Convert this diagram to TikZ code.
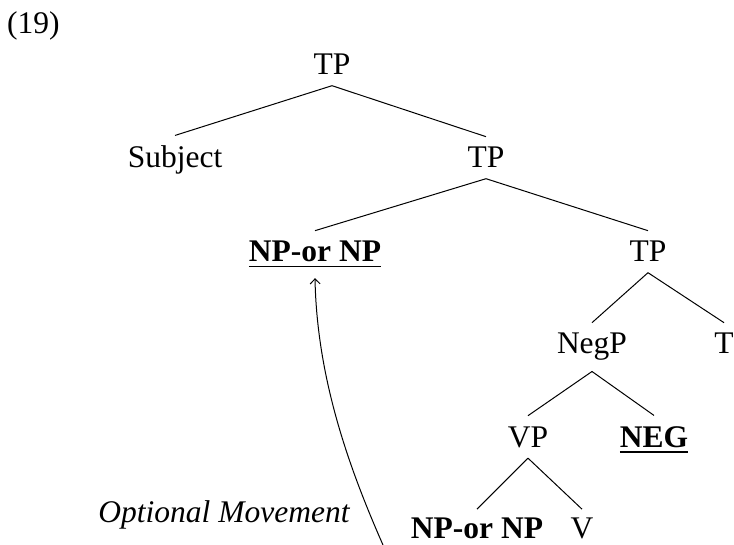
\documentclass[tikz,border=0pt]{standalone}
\usepackage{fontspec}
\setmainfont{Liberation Serif}
\usepackage{tikz}
\usetikzlibrary{arrows.meta}

\newcommand{\undl}[1]{\setbox0\hbox{#1}\rlap{\rule[-5.5pt]{\wd0}{1.4pt}}\box0}

\begin{document}
\begin{tikzpicture}[x=1pt, y=-1pt,
	cat/.style={anchor=base, inner xsep=2pt, inner ysep=10.5pt, font=\fontsize{31.5}{38}\selectfont},
	edge/.style={line width=1pt}]

\useasboundingbox (0,0) rectangle (734,545);

\def \ya{75}
\def \yb{168}
\def \yc{262}
\def \yd{354}
\def \ye{447}
\def \yf{538}

\node[cat, anchor=base west] (ex) at (5,34) {(19)}; % example number

\node[cat] (tp0)  at (332,\ya) {TP};
\node[cat] (subj) at (175,\yb) {Subject};
\node[cat] (tp1)  at (486,\yb) {TP};
\node[cat] (np1)  at (315,\yc) {\undl{\bfseries NP-or NP}};
\node[cat] (tp2)  at (648,\yc) {TP};
\node[cat] (negp) at (592,\yd) {NegP};
\node[cat] (t)    at (724,\yd) {T};
\node[cat] (vp)   at (528,\ye) {VP};
\node[cat] (neg)  at (654,\ye) {\undl{\bfseries NEG}};
\node[cat, inner ysep=8pt] (np2) at (477,\yf) {\bfseries NP-or NP};
\node[cat, inner ysep=8pt] (v)   at (582,\yf) {V};

\foreach \a/\b in {tp0/subj, tp0/tp1, tp1/np1, tp1/tp2, tp2/negp, tp2/t, negp/vp, negp/neg, vp/np2, vp/v} {
	\draw[edge] (\a.south) -- (\b.north);
}

\coordinate (trace) at (383,545); % movement start
\draw[edge, -{Straight Barb[length=5pt, width=10pt]}] (trace) .. controls (350,470) and (317,380) .. (np1.south);

\node[cat, font=\fontsize{31.5}{38}\selectfont\itshape] (mv) at (224,522) {Optional Movement};

\end{tikzpicture}
\end{document}
